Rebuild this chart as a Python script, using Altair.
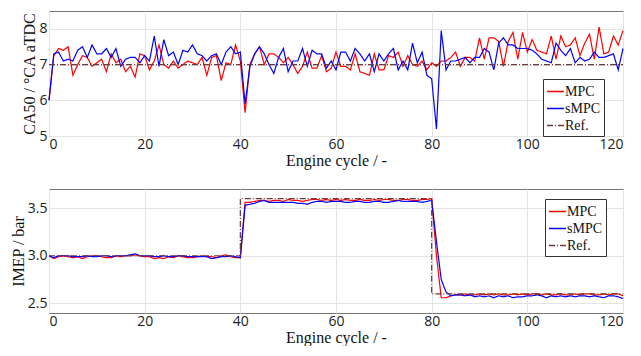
import altair as alt
import pandas as pd

cycles = list(range(121))

ca50_mpc = [6.0, 7.25, 7.45, 7.4, 7.5, 6.7, 7.0, 7.25, 7.2, 6.95,
            7.05, 7.15, 6.8, 7.3, 7.05, 7.15, 6.8, 6.95, 6.65, 7.3,
            7.25, 6.85, 7.1, 7.55, 7.0, 6.9, 7.1, 6.9, 7.0, 7.1,
            7.05, 7.0, 7.2, 6.7, 7.2, 7.25, 6.55, 7.05, 7.0, 7.55,
            7.1, 5.65, 7.0, 7.3, 7.5, 7.0, 7.3, 7.3, 7.2, 7.05,
            7.2, 7.0, 6.75, 6.95, 7.35, 6.9, 6.9, 7.25, 6.8, 6.9,
            7.35, 6.95, 6.95, 6.85, 7.3, 6.8, 6.75, 6.7, 7.3, 6.85,
            6.85, 7.25, 7.2, 7.35, 6.95, 7.25, 7.0, 6.95, 7.1, 6.85,
            7.05, 6.95, 7.1, 7.1, 7.2, 7.35, 6.95, 7.2, 7.2, 7.1,
            7.75, 7.15, 7.75, 7.75, 7.65, 6.95, 7.65, 7.9, 7.15, 7.9,
            7.35, 7.7, 7.4, 7.35, 7.3, 7.8, 7.15, 7.8, 7.5, 7.55,
            7.75, 7.25, 7.6, 7.85, 7.15, 8.05, 7.3, 7.35, 7.8, 7.55,
            7.95]

ca50_smpc = [6.0, 7.3, 7.35, 7.1, 7.15, 7.1, 7.4, 7.5, 7.2, 7.55,
             7.3, 7.3, 7.45, 7.2, 7.45, 6.95, 7.15, 7.2, 7.2, 7.05,
             7.25, 7.1, 7.8, 6.95, 7.7, 7.25, 7.35, 7.0, 7.4, 7.35,
             7.55, 7.3, 7.25, 7.1, 7.25, 7.3, 7.0, 7.35, 7.5, 7.3,
             7.35, 5.9, 6.95, 7.3, 7.5, 7.3, 7.0, 6.75, 7.2, 7.45,
             6.8, 7.1, 7.1, 7.45, 6.95, 7.4, 7.3, 7.3, 6.9, 7.1,
             6.85, 7.35, 7.35, 7.1, 7.45, 7.3, 7.1, 7.3, 6.8, 7.3,
             7.1, 7.3, 7.45, 6.85, 7.1, 6.85, 7.6, 7.05, 7.35, 6.7,
             6.6, 5.2, 7.95, 6.85, 7.1, 7.1, 7.15, 7.2, 7.05, 7.2,
             7.2, 7.45, 7.35, 6.85, 7.6, 7.75, 7.55, 7.55, 7.45, 7.45,
             7.45, 7.4, 7.3, 7.15, 7.1, 7.05, 7.6, 7.4, 7.25, 7.45,
             7.05, 7.2, 7.1, 7.15, 7.35, 7.2, 7.2, 7.25, 7.3, 6.85,
             7.45]

imep_mpc = [3.0, 2.97, 2.99, 3.0, 2.99, 2.98, 2.99, 2.97, 2.99, 3.0,
            3.0, 2.99, 2.98, 2.98, 3.0, 2.99, 3.0, 3.0, 3.01, 3.0,
            2.99, 2.99, 2.97, 2.98, 2.97, 2.99, 2.98, 3.0, 2.99, 2.98,
            2.98, 2.99, 3.0, 2.99, 2.99, 2.98, 3.0, 3.01, 2.99, 2.98,
            2.98, 3.56, 3.56, 3.57, 3.58, 3.58, 3.57, 3.58, 3.58, 3.57,
            3.59, 3.58, 3.58, 3.57, 3.58, 3.59, 3.59, 3.58, 3.59, 3.58,
            3.59, 3.58, 3.59, 3.58, 3.58, 3.59, 3.58, 3.58, 3.59, 3.58,
            3.59, 3.59, 3.58, 3.58, 3.59, 3.59, 3.58, 3.58, 3.59, 3.59,
            3.6, 3.0, 2.56, 2.56, 2.58, 2.59, 2.59, 2.6, 2.59, 2.59,
            2.6, 2.59, 2.6, 2.59, 2.6, 2.59, 2.59, 2.6, 2.59, 2.6,
            2.59, 2.6, 2.6, 2.59, 2.6, 2.59, 2.59, 2.6, 2.59, 2.59,
            2.6, 2.59, 2.6, 2.6, 2.59, 2.59, 2.6, 2.59, 2.6, 2.6,
            2.58]

imep_smpc = [3.0, 2.98, 3.0, 3.0, 3.0, 2.99, 2.99, 2.99, 3.0, 2.99,
             2.99, 3.0, 3.0, 2.99, 3.0, 3.0, 3.0, 3.01, 3.02, 3.0,
             3.0, 3.0, 2.99, 2.99, 3.0, 2.99, 2.99, 3.0, 3.0, 2.99,
             2.99, 2.99, 2.99, 2.99, 2.97, 2.98, 2.99, 2.99, 3.0, 2.99,
             2.98, 3.53, 3.54, 3.55, 3.57, 3.58, 3.56, 3.56, 3.56, 3.56,
             3.56, 3.56, 3.55, 3.55, 3.54, 3.56, 3.57, 3.57, 3.56, 3.57,
             3.57, 3.57, 3.56, 3.56, 3.57, 3.57, 3.56, 3.56, 3.57, 3.57,
             3.56, 3.56, 3.57, 3.58, 3.57, 3.57, 3.57, 3.57, 3.56, 3.57,
             3.58, 3.15, 2.75, 2.62, 2.58, 2.59, 2.59, 2.58, 2.59, 2.57,
             2.58, 2.57, 2.58, 2.56, 2.58, 2.57, 2.58, 2.56, 2.57, 2.57,
             2.58, 2.58, 2.59, 2.58, 2.56, 2.58, 2.57, 2.58, 2.57, 2.58,
             2.57, 2.58, 2.58, 2.57, 2.58, 2.57, 2.56, 2.58, 2.58, 2.57,
             2.55]

ref_ca50_x = [0, 120]
ref_ca50_y = [7.0, 7.0]
ref_imep_x = [0, 40, 40, 80, 80, 120]
ref_imep_y = [3.0, 3.0, 3.6, 3.6, 2.6, 2.6]

series = ["MPC", "sMPC", "Ref."]
colors = ["#ff0000", "#0000ff", "#6b3a3a"]
dashes = [[1, 0], [1, 0], [6, 2, 1, 2]]


def long_df(mpc, smpc, rx, ry):
    rows = []
    for c, v in zip(cycles, mpc):
        rows.append({"x": c, "y": v, "s": "MPC", "o": 0})
    for c, v in zip(cycles, smpc):
        rows.append({"x": c, "y": v, "s": "sMPC", "o": 1})
    for c, v in zip(rx, ry):
        rows.append({"x": c, "y": v, "s": "Ref.", "o": 2})
    return pd.DataFrame(rows)


serif = "Liberation Serif"
sans = "Open Sans"


def legend(lx, ly):
    return alt.Legend(title=None, orient="none", legendX=lx, legendY=ly,
                      symbolType="stroke", symbolSize=289,
                      symbolStrokeWidth=1.3,
                      labelFont=serif, labelFontSize=14, labelColor="#111111",
                      strokeColor="#333333", fillColor="white",
                      padding=3, rowPadding=0, labelOffset=0)


def panel(df, ytitle, ydom, yvals, lx, ly, h):
    return alt.Chart(df).mark_line(strokeWidth=1.2).encode(
        x=alt.X("x:Q", scale=alt.Scale(domain=[0, 120], nice=False),
                axis=alt.Axis(values=[0, 20, 40, 60, 80, 100, 120],
                              title="Engine cycle / -", titlePadding=1,
                              labelPadding=1)),
        y=alt.Y("y:Q", scale=alt.Scale(domain=ydom, nice=False, zero=False),
                axis=alt.Axis(values=yvals, title=ytitle, titlePadding=1)),
        color=alt.Color("s:N", scale=alt.Scale(domain=series, range=colors),
                        legend=legend(lx, ly)),
        strokeDash=alt.StrokeDash("s:N", scale=alt.Scale(domain=series, range=dashes),
                                  legend=legend(lx, ly)),
        order="o:Q",
        detail="s:N",
    ).properties(width=574, height=h)


top = panel(long_df(ca50_mpc, ca50_smpc, ref_ca50_x, ref_ca50_y),
            "CA50 / °CA aTDC", [5, 8.5], [5, 6, 7, 8], 494, 68, 125)
bottom = panel(long_df(imep_mpc, imep_smpc, ref_imep_x, ref_imep_y),
               "IMEP / bar", [2.4, 3.7], [2.5, 3, 3.5], 496, 10, 124)

chart = alt.vconcat(top, bottom, spacing=19).resolve_scale(
    color="independent", strokeDash="independent"
).properties(padding={"top": 2, "left": 1, "right": 0, "bottom": 0}).configure_view(
    stroke="#777777", strokeWidth=1
).configure_axis(
    grid=True, gridColor="#e4e4e4", domain=False, ticks=False,
    labelFont=sans, labelFontSize=14, labelColor="#222222", labelPadding=2,
    titleFont=serif, titleFontSize=16, titleFontWeight="normal", titleColor="#111111",
)

chart.save("out.html", embed_options={"renderer": "svg", "actions": False})
